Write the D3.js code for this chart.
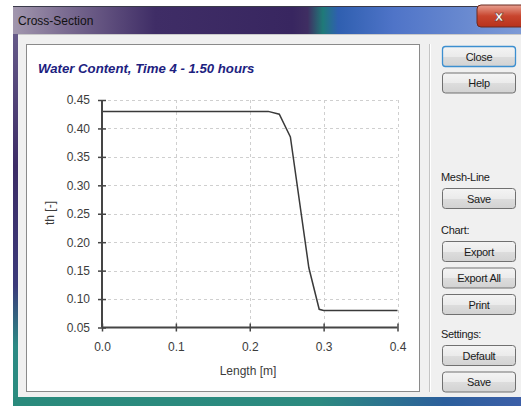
<!DOCTYPE html>
<html><head><meta charset="utf-8">
<script src="https://cdn.jsdelivr.net/npm/d3@7"></script>
<style>
html,body{margin:0;padding:0;background:#fff;overflow:hidden;}
svg{display:block;}
</style></head>
<body>
<script>
// ---- data ----
const lengthM = [0.0, 0.225, 0.24, 0.255, 0.28, 0.294, 0.30, 0.40];
const waterContent = [0.43, 0.43, 0.425, 0.385, 0.155, 0.082, 0.08, 0.08];
const xTicks = [0.0, 0.1, 0.2, 0.3, 0.4];
const yTicks = [0.05, 0.10, 0.15, 0.20, 0.25, 0.30, 0.35, 0.40, 0.45];
const chartTitle = "Water Content, Time 4 - 1.50 hours";
const xLabel = "Length [m]";
const yLabel = "th [-]";
const windowTitle = "Cross-Section";
const buttonGroups = [
  {label: null, y: 46, buttons: ["Close", "Help"]},
  {label: "Mesh-Line", y: 188, buttons: ["Save"]},
  {label: "Chart:", y: 241, buttons: ["Export", "Export All", "Print"]},
  {label: "Settings:", y: 345, buttons: ["Default", "Save"]}
];

const W = 521, H = 406;
const svg = d3.select("body").append("svg").attr("width", W).attr("height", H);
const defs = svg.append("defs");

// title bar gradient
const tg = defs.append("linearGradient").attr("id","tbar").attr("x1","0").attr("x2","1").attr("y1","0").attr("y2","0");
[[0,"#a297ae"],[0.1,"#7c6d92"],[0.28,"#3f2d66"],[0.55,"#382660"],[0.58,"#3f2e62"],[0.61,"#1f7a78"],[0.64,"#2f5fb0"],[0.75,"#4f74c8"],[1,"#7d9ad6"]]
  .forEach(([o,c])=>tg.append("stop").attr("offset",o).attr("stop-color",c));
const lg = defs.append("linearGradient").attr("id","lframe").attr("x1","0").attr("x2","0").attr("y1","0").attr("y2","1");
[[0,"#6f6490"],[0.4,"#3c2c66"],[0.7,"#3b3a7a"],[0.85,"#2c8a84"],[1,"#2a8c7e"]]
  .forEach(([o,c])=>lg.append("stop").attr("offset",o).attr("stop-color",c));
const bg = defs.append("linearGradient").attr("id","bframe").attr("x1","0").attr("x2","1").attr("y1","0").attr("y2","0");
[[0,"#2a8a7c"],[0.6,"#2c8a80"],[0.85,"#2c5f9c"],[1,"#3c5fa8"]]
  .forEach(([o,c])=>bg.append("stop").attr("offset",o).attr("stop-color",c));
const btng = defs.append("linearGradient").attr("id","btn").attr("x1","0").attr("x2","0").attr("y1","0").attr("y2","1");
[[0,"#f4f4f4"],[0.5,"#ebebeb"],[0.51,"#dddddd"],[1,"#d2d2d2"]]
  .forEach(([o,c])=>btng.append("stop").attr("offset",o).attr("stop-color",c));
const xg = defs.append("linearGradient").attr("id","xbtn").attr("x1","0").attr("x2","0").attr("y1","0").attr("y2","1");
[[0,"#e8a090"],[0.5,"#c8452e"],[1,"#b8321c"]]
  .forEach(([o,c])=>xg.append("stop").attr("offset",o).attr("stop-color",c));

// window frame
svg.append("rect").attr("x",13).attr("y",6).attr("width",W-13).attr("height",H-6).attr("fill","url(#lframe)");
svg.append("rect").attr("x",13).attr("y",6).attr("width",W-13).attr("height",28).attr("fill","url(#tbar)");
svg.append("rect").attr("x",13).attr("y",397).attr("width",W-13).attr("height",9).attr("fill","url(#bframe)");
svg.append("line").attr("x1",13).attr("x2",W).attr("y1",6.5).attr("y2",6.5).attr("stroke","#3a3a4a").attr("stroke-width",1);
svg.append("text").attr("x",18).attr("y",25).text(windowTitle)
  .attr("font-family","Liberation Sans, Arial, sans-serif").attr("font-size",12).attr("fill","#111");
// close button
svg.append("rect").attr("x",477).attr("y",5).attr("width",50).attr("height",22).attr("rx",4)
  .attr("fill","url(#xbtn)").attr("stroke","#6a2a20");
svg.append("text").attr("x",499).attr("y",21).attr("text-anchor","middle").text("x")
  .attr("font-family","DejaVu Sans, sans-serif").attr("font-weight","bold").attr("font-size",14).attr("fill","#fff")
  .attr("stroke","#5a2a20").attr("stroke-width",0.5);

// client area
svg.append("rect").attr("x",18).attr("y",34).attr("width",W-18).attr("height",363).attr("fill","#f0f0f0");
svg.append("line").attr("x1",18).attr("x2",W).attr("y1",34.5).attr("y2",34.5).attr("stroke","#c9c9c9");

// chart panel
svg.append("rect").attr("x",26.5).attr("y",44.5).attr("width",393).attr("height",347)
  .attr("fill","#fff").attr("stroke","#8a8a8a");
svg.append("line").attr("x1",429.5).attr("x2",429.5).attr("y1",44).attr("y2",392).attr("stroke","#c4c4c4");
svg.append("line").attr("x1",430.5).attr("x2",430.5).attr("y1",44).attr("y2",392).attr("stroke","#ffffff");

// scales
const x = d3.scaleLinear().domain([0, 0.4]).range([102, 397.5]);
const y = d3.scaleLinear().domain([0.05, 0.45]).range([327.5, 100]);
const font = "Liberation Sans, Arial, sans-serif";

// grid
const grid = svg.append("g").attr("stroke","#cfcfcf").attr("stroke-width",1).attr("stroke-dasharray","3,3");
xTicks.filter(v=>v>0).forEach(v=>grid.append("line").attr("x1",Math.round(x(v))+0.5).attr("x2",Math.round(x(v))+0.5)
  .attr("y1",y(0.45)).attr("y2",y(0.05)));
yTicks.filter(v=>v>0.05).forEach(v=>grid.append("line").attr("y1",Math.round(y(v))+0.5).attr("y2",Math.round(y(v))+0.5)
  .attr("x1",x(0)).attr("x2",x(0.4)));

// data line
svg.append("path").datum(lengthM.map((d,i)=>[d, waterContent[i]]))
  .attr("d", d3.line().x(d=>x(d[0])).y(d=>y(d[1])))
  .attr("fill","none").attr("stroke","#3a3a3a").attr("stroke-width",1.5);

// axes
const yAxis = svg.append("g").attr("transform","translate(102,0)")
  .call(d3.axisLeft(y).tickValues(yTicks).tickFormat(d3.format(".2f")).tickSize(4).tickPadding(8));
yAxis.selectAll(".tick line").attr("x1",4).attr("x2",-4);
const xAxis = svg.append("g").attr("transform","translate(0,327.5)")
  .call(d3.axisBottom(x).tickValues(xTicks).tickFormat(d3.format(".1f")).tickSize(4).tickPadding(11));
xAxis.selectAll(".tick line").attr("y1",-4).attr("y2",4);
[yAxis, xAxis].forEach(a=>{
  a.select(".domain").attr("stroke","#454545").attr("stroke-width",2);
  a.selectAll(".tick line").attr("stroke","#454545").attr("stroke-width",1.5);
  a.selectAll(".tick text").attr("font-family",font).attr("font-size",12).attr("fill","#3c3c3c");
});
yAxis.select(".domain").attr("d","M0,327.5V100");
xAxis.select(".domain").attr("d","M102,0H397.5");

// titles
svg.append("text").attr("x",38).attr("y",73).text(chartTitle)
  .attr("font-family",font).attr("font-size",13.2).attr("font-weight","bold").attr("font-style","italic").attr("fill","#1c2180");
svg.append("text").attr("x",248).attr("y",375).attr("text-anchor","middle").text(xLabel)
  .attr("font-family",font).attr("font-size",12).attr("fill","#3c3c3c");
svg.append("text").attr("transform","translate(54,213) rotate(-90)").attr("text-anchor","middle").text(yLabel)
  .attr("font-family",font).attr("font-size",12).attr("fill","#3c3c3c");

// buttons
const bfont = "Liberation Sans, Arial, sans-serif";
buttonGroups.forEach(g=>{
  if (g.label) svg.append("text").attr("x",441).attr("y",g.y-7).text(g.label)
    .attr("font-family",bfont).attr("font-size",11).attr("fill","#1a1a1a").attr("letter-spacing","-0.3");
  g.buttons.forEach((b,i)=>{
    const by = g.y + i*26.5;
    const isClose = b === "Close";
    svg.append("rect").attr("x",442.5).attr("y",by+0.5).attr("width",73).attr("height",20).attr("rx",3)
      .attr("fill","url(#btn)").attr("stroke", isClose ? "#3c8fd0" : "#707070").attr("stroke-width", isClose ? 1.3 : 1);
    svg.append("text").attr("x",479).attr("y",by+14.5).attr("text-anchor","middle").text(b)
      .attr("font-family",bfont).attr("font-size",11).attr("fill","#1a1a1a").attr("letter-spacing","-0.3");
  });
});
</script>
</body></html>
